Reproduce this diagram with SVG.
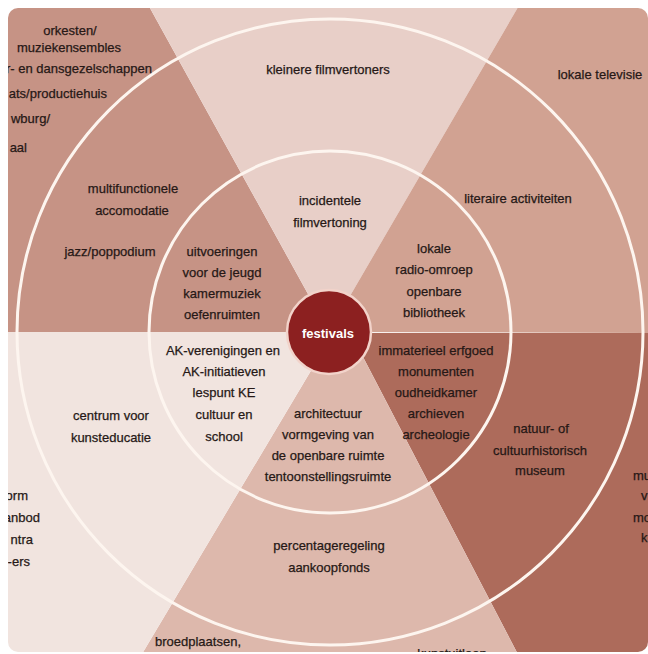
<svg xmlns="http://www.w3.org/2000/svg" width="648" height="654" viewBox="0 0 648 654">
<defs>
<clipPath id="card"><rect x="8" y="8" width="640" height="644" rx="10" ry="10"/></clipPath>
<style>
.t{font-family:"Liberation Sans Narrow","Liberation Sans",Arial,sans-serif;font-size:13px;fill:#261816;stroke:#261816;stroke-width:0.25;text-anchor:middle}
.e{text-anchor:end}
.s{text-anchor:start}
.ring{fill:none;stroke:#fdf5ef;stroke-width:3}
</style>
</defs>
<rect width="648" height="654" fill="#ffffff"/>
<g clip-path="url(#card)">
<g id="wedge-podium"><polygon points="329,332 -10,332 -10,-10 140,-10" fill="#c69385"/></g>
<g id="wedge-film"><polygon points="329,332 140,-10 528,-10" fill="#e8cfc8"/></g>
<g id="wedge-media"><polygon points="329,332 528,-10 660,-10 660,333" fill="#d1a292"/></g>
<g id="wedge-erfgoed"><polygon points="329,333 660,333 660,664 523,664 350,332" fill="#ad6b5b"/></g>
<g id="wedge-beeldend"><polygon points="350,332 523,664 136,664 334,332" fill="#ddb8ac"/></g>
<g id="wedge-amateur"><polygon points="334,332 136,664 -10,664 -10,332" fill="#f1e4df"/></g>
<g id="rings">
<circle class="ring" cx="330" cy="332" r="313"/>
<circle class="ring" cx="330" cy="332" r="181"/>
</g>
<g id="labels-podium">
<text class="t" x="70" y="35">orkesten/</text>
<text class="t" x="69" y="52">muziekensembles</text>
<text class="t e" x="152" y="73">r- en dansgezelschappen</text>
<text class="t e" x="107" y="98">ats/productiehuis</text>
<text class="t e" x="50" y="123">wburg/</text>
<text class="t e" x="27" y="152">aal</text>
<text class="t" x="133" y="193">multifunctionele</text>
<text class="t" x="132" y="215">accomodatie</text>
<text class="t" x="110" y="256">jazz/poppodium</text>
<text class="t" x="222" y="256">uitvoeringen</text>
<text class="t" x="222" y="277">voor de jeugd</text>
<text class="t" x="222" y="298">kamermuziek</text>
<text class="t" x="222" y="319">oefenruimten</text>
</g>
<g id="labels-film">
<text class="t" x="328" y="74">kleinere filmvertoners</text>
<text class="t" x="330" y="205">incidentele</text>
<text class="t" x="330" y="227">filmvertoning</text>
</g>
<g id="labels-media">
<text class="t" x="600" y="79">lokale televisie</text>
<text class="t" x="518" y="203">literaire activiteiten</text>
<text class="t" x="434" y="253">lokale</text>
<text class="t" x="434" y="274">radio-omroep</text>
<text class="t" x="434" y="296">openbare</text>
<text class="t" x="434" y="317">bibliotheek</text>
</g>
<g id="labels-erfgoed">
<text class="t" x="436" y="355">immaterieel erfgoed</text>
<text class="t" x="436" y="376">monumenten</text>
<text class="t" x="436" y="397">oudheidkamer</text>
<text class="t" x="436" y="418">archieven</text>
<text class="t" x="436" y="439">archeologie</text>
<text class="t" x="541" y="433">natuur- of</text>
<text class="t" x="540" y="455">cultuurhistorisch</text>
<text class="t" x="540" y="475">museum</text>
<text class="t s" x="633" y="480">mu</text>
<text class="t s" x="641" y="500">v</text>
<text class="t s" x="633" y="522">mo</text>
<text class="t s" x="641" y="542">k</text>
</g>
<g id="labels-beeldend">
<text class="t" x="328" y="418">architectuur</text>
<text class="t" x="328" y="439">vormgeving van</text>
<text class="t" x="328" y="460">de openbare ruimte</text>
<text class="t" x="328" y="481">tentoonstellingsruimte</text>
<text class="t" x="329" y="550">percentageregeling</text>
<text class="t" x="329" y="572">aankoopfonds</text>
<text class="t" x="198" y="646">broedplaatsen,</text>
<text class="t" x="452" y="658">kunstuitleen</text>
</g>
<g id="labels-amateur">
<text class="t" x="223" y="355">AK-verenigingen en</text>
<text class="t" x="224" y="376">AK-initiatieven</text>
<text class="t" x="224" y="397">lespunt KE</text>
<text class="t" x="224" y="419">cultuur en</text>
<text class="t" x="224" y="441">school</text>
<text class="t" x="111" y="420">centrum voor</text>
<text class="t" x="111" y="442">kunsteducatie</text>
<text class="t e" x="28" y="500">orm</text>
<text class="t e" x="40" y="522">anbod</text>
<text class="t e" x="33" y="544">ntra</text>
<text class="t e" x="30" y="566">-ers</text>
</g>
</g>
<g id="festivals">
<circle cx="329" cy="332" r="42" fill="#8c2020" stroke="#f2d3ca" stroke-width="2.5"/>
<text x="328" y="338" style="font-family:'Liberation Sans Narrow','Liberation Sans',Arial,sans-serif;font-size:13px;font-weight:bold;fill:#ffffff;text-anchor:middle">festivals</text>
</g>
</svg>
